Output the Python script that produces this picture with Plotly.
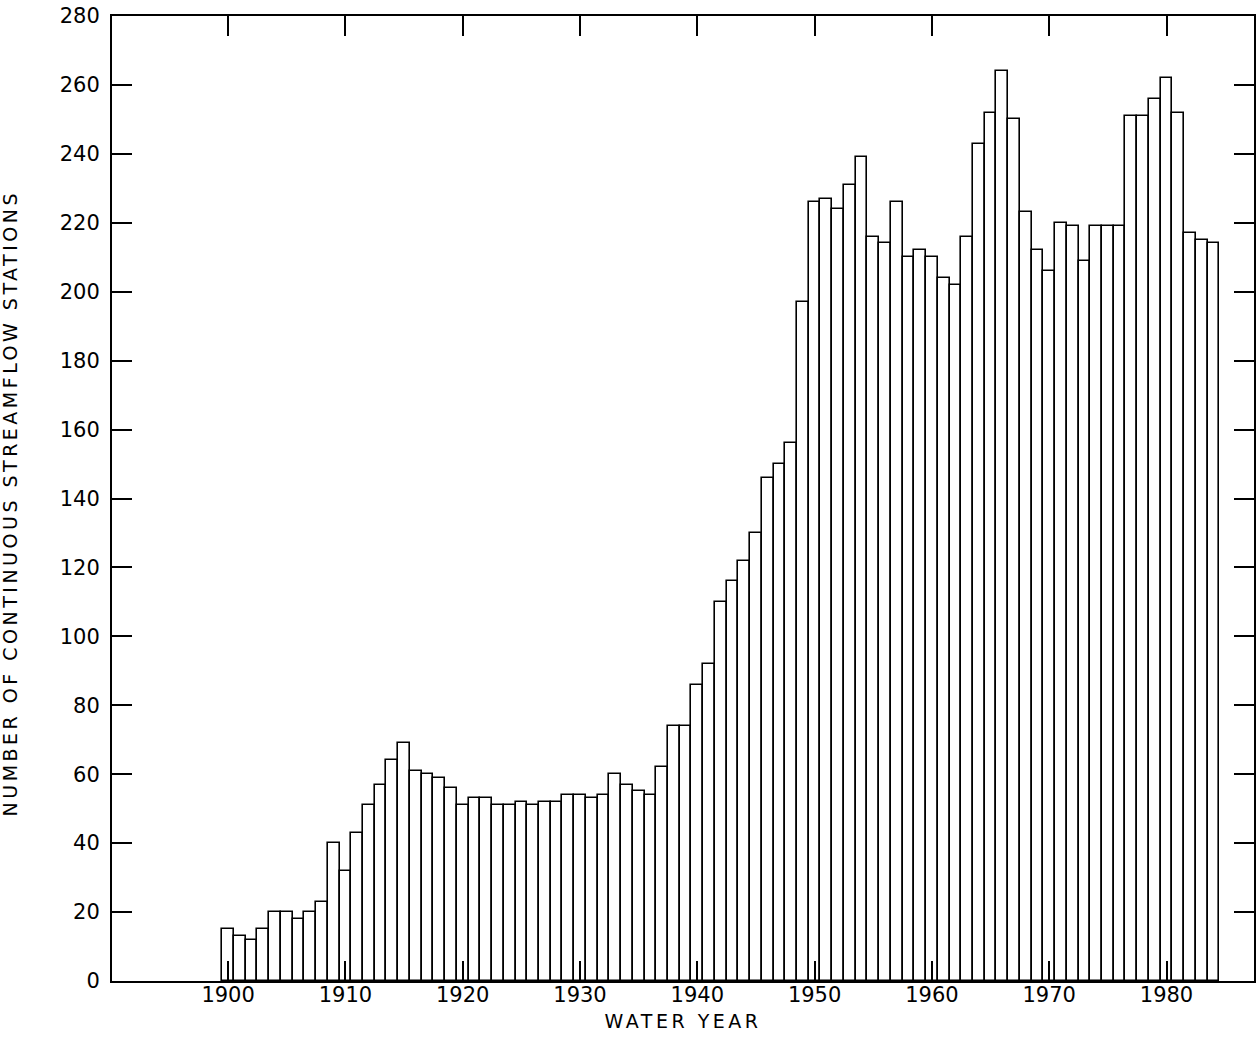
import plotly.graph_objects as go

years = [1900, 1901, 1902, 1903, 1904, 1905, 1906, 1907, 1908, 1909,
         1910, 1911, 1912, 1913, 1914, 1915, 1916, 1917, 1918, 1919,
         1920, 1921, 1922, 1923, 1924, 1925, 1926, 1927, 1928, 1929,
         1930, 1931, 1932, 1933, 1934, 1935, 1936, 1937, 1938, 1939,
         1940, 1941, 1942, 1943, 1944, 1945, 1946, 1947, 1948, 1949,
         1950, 1951, 1952, 1953, 1954, 1955, 1956, 1957, 1958, 1959,
         1960, 1961, 1962, 1963, 1964, 1965, 1966, 1967, 1968, 1969,
         1970, 1971, 1972, 1973, 1974, 1975, 1976, 1977, 1978, 1979,
         1980, 1981, 1982, 1983, 1984]

stations = [15, 13, 12, 15, 20, 20, 18, 20, 23, 40,
            32, 43, 51, 57, 64, 69, 61, 60, 59, 56,
            51, 53, 53, 51, 51, 52, 51, 52, 52, 54,
            54, 53, 54, 60, 57, 55, 54, 62, 74, 74,
            86, 92, 110, 116, 122, 130, 146, 150, 156, 197,
            226, 227, 224, 231, 239, 216, 214, 226, 210, 212,
            210, 204, 202, 216, 243, 252, 264, 250, 223, 212,
            206, 220, 219, 209, 219, 219, 219, 251, 251, 256,
            262, 252, 217, 215, 214]

x_ticks = [1900, 1910, 1920, 1930, 1940, 1950, 1960, 1970, 1980]
y_ticks = [0, 20, 40, 60, 80, 100, 120, 140, 160, 180, 200, 220, 240, 260, 280]

x_title = "WATER YEAR"
y_title = "NUMBER OF CONTINUOUS STREAMFLOW STATIONS"

FONT = "DejaVu Sans"

fig = go.Figure()
fig.add_trace(go.Bar(
    x=years, y=stations, width=1.0,
    marker=dict(color="white", line=dict(color="black", width=1.6)),
    showlegend=False,
))

fig.update_layout(
    width=1257, height=1040,
    margin=dict(l=112, r=1, t=16, b=59),
    paper_bgcolor="white", plot_bgcolor="white",
    bargap=0,
    font=dict(family=FONT, color="black", size=21),
    xaxis=dict(
        range=[1890.1, 1987.46],
        tickvals=x_ticks,
        ticks="inside", ticklen=20, tickwidth=1.5, tickcolor="black",
        showline=True, linecolor="black", linewidth=2, mirror="ticks",
        showgrid=False, zeroline=False,
        tickfont=dict(family=FONT, size=21, color="black"),
        ticklabelstandoff=-6,
        title=dict(text=x_title, font=dict(family=FONT, size=19, color="black"), standoff=8),
    ),
    yaxis=dict(
        range=[0, 280],
        tickvals=y_ticks,
        ticks="inside", ticklen=20, tickwidth=1.5, tickcolor="black",
        showline=True, linecolor="black", linewidth=2, mirror="ticks",
        showgrid=False, zeroline=False,
        tickfont=dict(family=FONT, size=21, color="black"),
        ticklabelstandoff=6,
    ),
    annotations=[dict(
        text=y_title, textangle=-90,
        xref="paper", yref="paper", x=-0.0892, y=0.495,
        xanchor="center", yanchor="middle", showarrow=False,
        font=dict(family=FONT, size=19, color="black"),
    )],
)

post = ("document.body.style.margin='0';"
        "document.body.style.padding='0';"
        "document.querySelectorAll('.xtitle, .annotation-text').forEach("
        "function(e){e.style.letterSpacing='3.5px';});")
fig.write_html("out.html", post_script=post, config={"displayModeBar": False})
